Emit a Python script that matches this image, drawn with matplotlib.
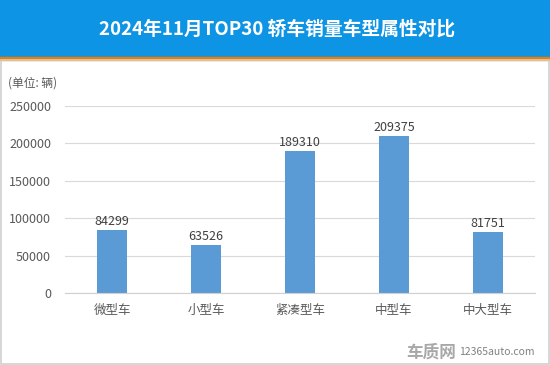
import matplotlib.pyplot as plt
from matplotlib.patches import Rectangle

plt.rcParams['font.family'] = ['Noto Sans CJK SC', 'DejaVu Sans']

# data
categories = ['微型车', '小型车', '紧凑型车', '中型车', '中大型车']
sales = [84299, 63526, 189310, 209375, 81751]
yticks = [0, 50000, 100000, 150000, 200000, 250000]

fig = plt.figure(figsize=(5.5, 3.65), dpi=100)

# header band
fig.patches.append(Rectangle((0, 1 - 57 / 365), 1, 57 / 365, transform=fig.transFigure,
                             color='#0d94e4', zorder=0))
fig.patches.append(Rectangle((0, 1 - 60 / 365), 1, 3 / 365, transform=fig.transFigure,
                             color='#f07d00', zorder=1))
# outer frame
fig.patches.append(Rectangle((0.002, 0.003), 0.996, 1 - 60 / 365 - 0.003, transform=fig.transFigure,
                             fill=False, edgecolor='#d0d0d0', lw=1.2, zorder=1))
fig.text(0.504, 1 - 29 / 365, '2024年11月TOP30 轿车销量车型属性对比', color='white',
         fontsize=13.5, fontweight='bold', ha='center', va='center')

ax = fig.add_axes([65 / 550, 1 - 293 / 365, 470 / 550, (293 - 106) / 365])
x = range(len(categories))
ax.bar(x, sales, width=0.32, color='#5b9bd5', zorder=2)
for i, v in enumerate(sales):
    ax.text(i, v + 3000, str(v), ha='center', va='bottom', fontsize=9, color='#404040')

ax.set_xlim(-0.5, len(categories) - 0.5)
ax.set_ylim(0, 250000)
ax.set_yticks(yticks)
ax.set_yticklabels([str(t) for t in yticks])
ax.set_xticks(list(x))
ax.set_xticklabels(categories)
ax.grid(axis='y', color='#d9d9d9', lw=0.8, zorder=0)
for s in ['top', 'right', 'left']:
    ax.spines[s].set_visible(False)
ax.spines['bottom'].set_color('#d0d0d0')
ax.tick_params(axis='both', length=0, labelsize=9, colors='#595959')
ax.tick_params(axis='y', pad=10)
ax.tick_params(axis='x', pad=8)

fig.text(8 / 550, 1 - 83 / 365, '(单位: 辆)', fontsize=8.5, color='#595959', va='center')

# watermark
fig.text(0.83, 0.035, '车质网', fontsize=12, color='#a8a8a8', fontweight='bold',
         ha='right', va='center')
fig.text(0.835, 0.035, '12365auto.com', fontsize=7.5, color='#808080',
         ha='left', va='center')

fig.savefig('out.png', dpi=100)
